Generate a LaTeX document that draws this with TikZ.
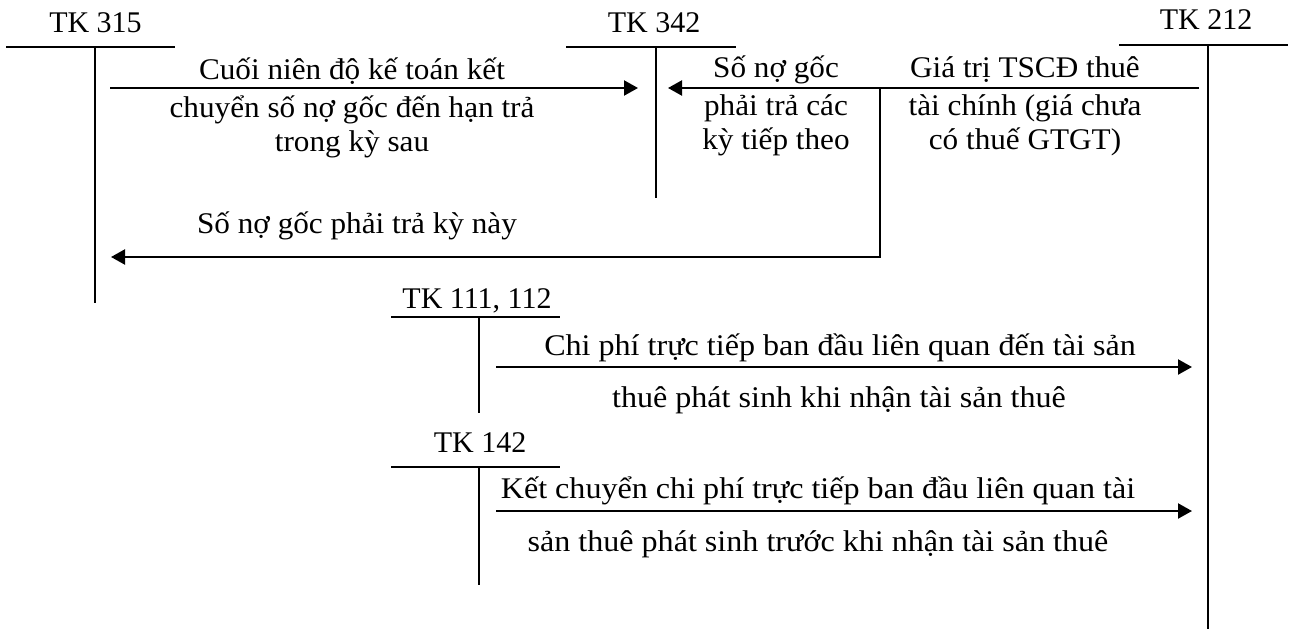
\documentclass[tikz,border=0pt]{standalone}
\usepackage{fontspec}
\setmainfont{Liberation Serif}
\newfontfamily\widerA[FakeStretch=1.04]{Liberation Serif}
\newfontfamily\widerB[FakeStretch=1.07]{Liberation Serif}
\usetikzlibrary{arrows.meta}
\begin{document}
\begin{tikzpicture}[x=1pt,y=-1pt,
  lbl/.style={inner sep=0pt, anchor=base, font=\fontsize{30}{34}\selectfont},
  txta/.style={lbl, font=\widerA\fontsize{30}{34}\selectfont},
  txtb/.style={lbl, font=\widerB\fontsize{30}{34}\selectfont},
  mlbl/.style={txta, align=center},
  tline/.style={line width=1.5pt},
  flow/.style={line width=2.2pt, -{Triangle[length=14pt,width=15pt]}},
]
\useasboundingbox (0,0) rectangle (1293,629);
% T-account TK 315
\node[lbl] (t315) at (95.5,32) {TK 315};
\coordinate (t315l) at (6,47); \coordinate (t315r) at (175,47);
\coordinate (t315t) at (95,47); \coordinate (t315b) at (95,303);
\draw[tline] (t315l) -- (t315r); \draw[tline] (t315t) -- (t315b);
% TK 342
\node[lbl] (t342) at (654,32) {TK 342};
\coordinate (t342l) at (566,47); \coordinate (t342r) at (736,47);
\coordinate (t342t) at (656,47); \coordinate (t342b) at (656,198);
\draw[tline] (t342l) -- (t342r); \draw[tline] (t342t) -- (t342b);
% TK 212
\node[lbl] (t212) at (1206,29) {TK 212};
\coordinate (t212l) at (1119,45); \coordinate (t212r) at (1288,45);
\coordinate (t212t) at (1208,45); \coordinate (t212b) at (1208,629);
\draw[tline] (t212l) -- (t212r); \draw[tline] (t212t) -- (t212b);
% TK 111, 112
\node[lbl] (t111) at (477,308) {TK 111, 112};
\coordinate (t111l) at (391,317); \coordinate (t111r) at (560,317);
\coordinate (t111t) at (479,317); \coordinate (t111b) at (479,413);
\draw[tline] (t111l) -- (t111r); \draw[tline] (t111t) -- (t111b);
% TK 142
\node[lbl] (t142) at (480,452) {TK 142};
\coordinate (t142l) at (391,467); \coordinate (t142r) at (560,467);
\coordinate (t142t) at (479,467); \coordinate (t142b) at (479,585);
\draw[tline] (t142l) -- (t142r); \draw[tline] (t142t) -- (t142b);

% flows
\coordinate (a1s) at (110,88); \coordinate (a1e) at (638,88);
\draw[flow] (a1s) -- (a1e);
\node[mlbl] (txt1) at (352,151) {Cuối niên độ kế toán kết\\[4pt]chuyển số nợ gốc đến hạn trả\\trong kỳ sau};

\coordinate (a2s) at (1199,88); \coordinate (a2e) at (668,88);
\draw[flow] (a2s) -- (a2e);
\coordinate (br) at (880,88); \coordinate (a3e) at (111,257);
\draw[flow] (br) |- (a3e);
\node[mlbl] (txt2) at (776,149) {Số nợ gốc\\[4pt]phải trả các\\kỳ tiếp theo};
\node[mlbl] (txt3) at (1025,149) {Giá trị TSCĐ thuê\\[4pt]tài chính (giá chưa\\có thuế GTGT)};
\node[txta] (txt4) at (357,233) {Số nợ gốc phải trả kỳ này};

\coordinate (a4s) at (496,367); \coordinate (a4e) at (1192,367);
\draw[flow] (a4s) -- (a4e);
\node[txtb] (txt5) at (840,355) {Chi phí trực tiếp ban đầu liên quan đến tài sản};
\node[txtb] (txt6) at (839,407) {thuê phát sinh khi nhận tài sản thuê};

\coordinate (a5s) at (496,511); \coordinate (a5e) at (1192,511);
\draw[flow] (a5s) -- (a5e);
\node[txtb] (txt7) at (818,498) {Kết chuyển chi phí trực tiếp ban đầu liên quan tài};
\node[txtb] (txt8) at (818,551) {sản thuê phát sinh trước khi nhận tài sản thuê};
\end{tikzpicture}
\end{document}
